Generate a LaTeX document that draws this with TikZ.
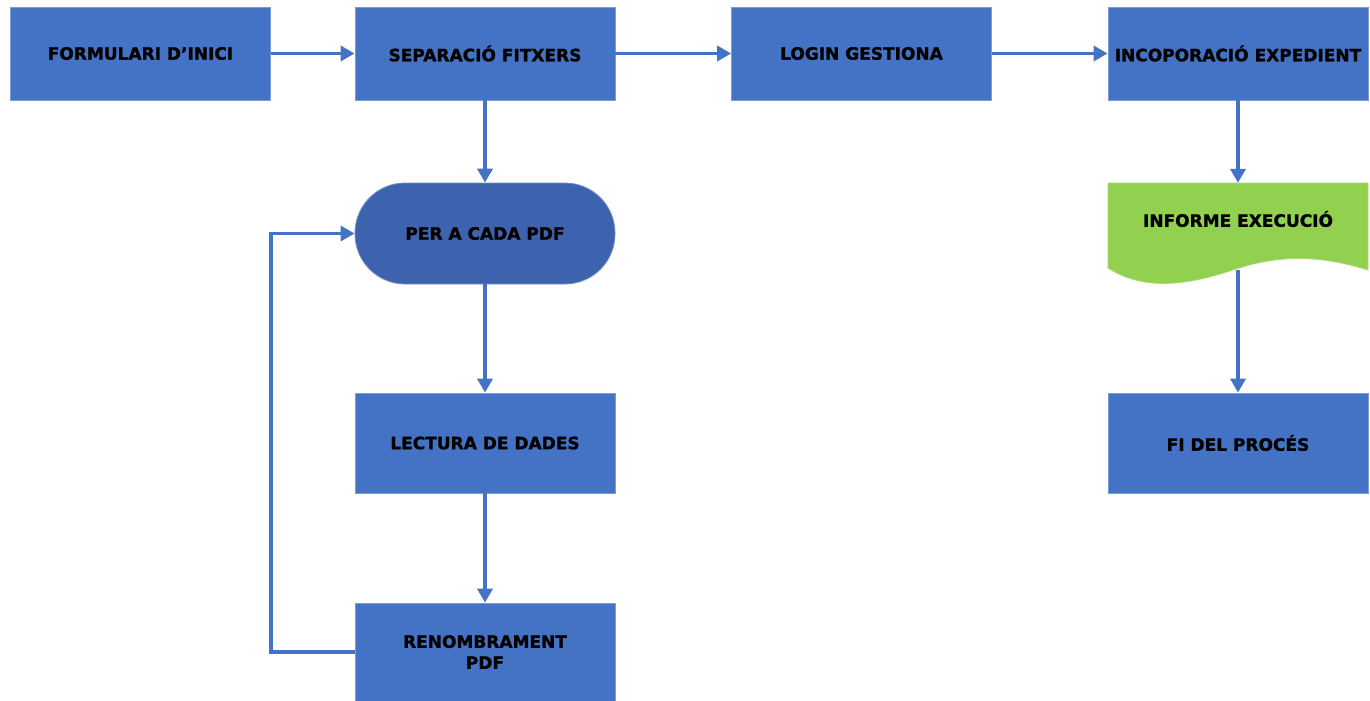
\documentclass[tikz,border=0pt]{standalone}
\usepackage{fontspec}
\setmainfont{DejaVu Sans}[BoldFeatures={FakeBold=1.2}]
\usetikzlibrary{arrows.meta}
\definecolor{boxblue}{HTML}{4472C4}
\definecolor{darkblue}{HTML}{3D63AE}
\definecolor{docgreen}{HTML}{92D050}
\tikzset{
  boxfont/.style={font=\fontsize{17}{21}\selectfont\bfseries, text=black},
  stepbox/.style={rectangle, fill=boxblue, draw=boxblue!70!white, line width=0.8pt, minimum width=260pt, minimum height=93pt, inner sep=0pt, align=center, boxfont},
  loopbox/.style={stepbox, fill=darkblue, draw=darkblue!70!white, rounded corners=50pt, minimum height=101pt},
  conn/.style={draw=boxblue, line width=3.5pt, -{Triangle[length=14pt,width=15pt]}},
}
\begin{document}
\begin{tikzpicture}[x=1pt,y=-1pt]
\useasboundingbox[fill=white] (0,0) rectangle (1370,701);
\node[stepbox] (form) at (140.5,53.5) {FORMULARI D’INICI};
\node[stepbox] (sep) at (485,53.5) {SEPARACIÓ FITXERS};
\node[stepbox] (login) at (861.5,53.5) {LOGIN GESTIONA};
\node[stepbox] (inc) at (1238,53.5) {INCOPORACIÓ EXPEDIENT};
\node[loopbox] (per) at (485,233.5) {PER A CADA PDF};
\node[stepbox, minimum height=100pt] (lect) at (485,443) {LECTURA DE DADES};
\node[stepbox, minimum height=98pt] (ren) at (485,652) {RENOMBRAMENT\\PDF};
% document shape
\filldraw[fill=docgreen, draw=docgreen!80!white, line width=0.8pt]
  (1108,183) -- (1368,183) -- (1368,270)
  .. controls (1320,255) and (1280,255) .. (1239,268)
  .. controls (1200,281) and (1150,295) .. (1108,268) -- cycle;
\node[rectangle, minimum width=260pt, minimum height=87pt, inner sep=0pt] (inf) at (1238,226.5) {};
\node[boxfont, inner sep=0pt] (inftext) at (1238,219) {INFORME EXECUCIÓ};
\node[stepbox, minimum height=100pt] (fi) at (1238,443) {FI DEL PROCÉS};
\coordinate (loopbl) at (271,652);
\coordinate (looptl) at (271,233.5);
\draw[conn] (form) -- (sep);
\draw[conn] (sep) -- (login);
\draw[conn] (login) -- (inc);
\draw[conn] (sep) -- (per);
\draw[conn] (per) -- (lect);
\draw[conn] (lect) -- (ren);
\draw[conn] (ren.west) -- (loopbl) -- (looptl) -- (per.west);
\draw[conn] (inc) -- (inf.north);
\draw[conn] (inf.south) -- (fi);
\end{tikzpicture}
\end{document}
